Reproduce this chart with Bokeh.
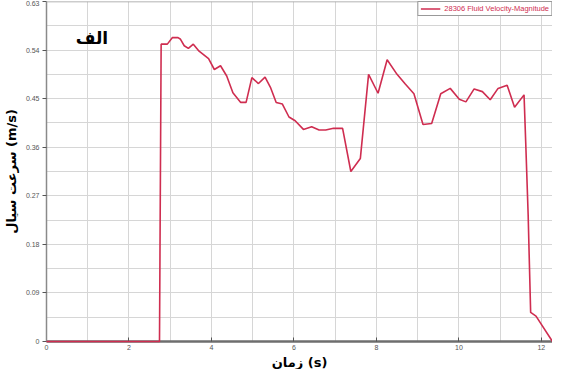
from bokeh.plotting import figure
from bokeh.models import Range1d, FixedTicker, Span, Label, Title
from bokeh.embed import file_html
from bokeh.resources import INLINE

# ---- data ----
series_name = "28306 Fluid Velocity-Magnitude"
time_s = [0, 2.74, 2.78, 2.93, 3.05, 3.19, 3.25, 3.34, 3.44, 3.56, 3.70, 3.93, 4.07, 4.22,
          4.37, 4.52, 4.71, 4.84, 4.98, 5.14, 5.30, 5.43, 5.57, 5.72, 5.88, 6.03, 6.23,
          6.43, 6.61, 6.77, 6.96, 7.18, 7.38, 7.61, 7.81, 8.04, 8.26, 8.50, 8.70, 8.91,
          9.13, 9.34, 9.56, 9.79, 10.01, 10.17, 10.37, 10.57, 10.76, 10.95, 11.17, 11.35,
          11.58, 11.62, 11.68, 11.71, 11.74, 11.87, 12.27]
velocity = [0, 0, 0.551, 0.551, 0.563, 0.563, 0.560, 0.548, 0.543, 0.551, 0.538, 0.524,
            0.504, 0.511, 0.492, 0.461, 0.443, 0.443, 0.489, 0.478, 0.490, 0.471, 0.443,
            0.440, 0.416, 0.409, 0.393, 0.398, 0.392, 0.392, 0.395, 0.395, 0.315, 0.339,
            0.495, 0.460, 0.522, 0.495, 0.477, 0.459, 0.402, 0.404, 0.459, 0.469, 0.449,
            0.444, 0.468, 0.463, 0.448, 0.469, 0.475, 0.434, 0.457, 0.370, 0.234, 0.143,
            0.054, 0.047, 0.0]

x_ticks = [0, 2, 4, 6, 8, 10, 12]
x_tick_labels = ["0", "2", "4", "6", "8", "10", "12"]
y_ticks = [0, 0.09, 0.18, 0.27, 0.36, 0.45, 0.54, 0.63]
y_tick_labels = ["0", "0.09", "0.18", "0.27", "0.36", "0.45", "0.54", "0.63"]
x_grid = list(range(0, 13))
y_grid = [0, 0.045, 0.09, 0.135, 0.18, 0.225, 0.27, 0.315, 0.36, 0.405, 0.45, 0.495,
          0.54, 0.585, 0.63]

x_label = "زمان (s)"
y_label = "سرعت سیال (m/s)"
panel_title = "الف"

LINE = "#cf2d50"
FONT = "DejaVu Sans"
TICKFONT = "Liberation Sans"
X_MAX = 12.27

p = figure(width=552, height=369, output_backend="svg", toolbar_location=None,
           x_range=Range1d(0, X_MAX), y_range=Range1d(0, 0.63),
           min_border_left=40, min_border_right=0, min_border_top=1, min_border_bottom=0)
p.background_fill_color = "white"
p.border_fill_color = "white"
p.outline_line_color = None

r = p.line(time_s, velocity, line_color=LINE, line_width=1.6, legend_label=series_name)
r.level = "overlay"

# axes
p.xaxis.ticker = FixedTicker(ticks=x_ticks)
p.yaxis.ticker = FixedTicker(ticks=y_ticks)
p.xaxis.major_label_overrides = {t: l for t, l in zip(x_ticks, x_tick_labels)}
p.yaxis.major_label_overrides = {t: l for t, l in zip(y_ticks, y_tick_labels)}
for ax in (p.xaxis, p.yaxis):
    ax.major_label_text_font = TICKFONT
    ax.major_label_text_font_size = "7px"
    ax.major_label_text_color = "#555555"
    ax.minor_tick_line_color = None
    ax.major_tick_line_color = "#555555"
    ax.axis_label_text_font = FONT
    ax.axis_label_text_font_style = "bold"
    ax.axis_label_text_font_size = "13px"
    ax.axis_label_text_color = "black"
    ax.major_label_standoff = 3
p.xaxis.axis_line_color = "#6e6e6e"
p.xaxis.axis_line_width = 2.5
p.xaxis.major_tick_in = 4
p.xaxis.major_tick_out = 0
p.xaxis.major_label_standoff = 3
p.yaxis.axis_line_color = "#8a8a8a"
p.yaxis.axis_line_width = 1.5
p.yaxis.major_tick_in = 0
p.yaxis.major_tick_out = 4
p.yaxis.axis_label_standoff = 4
p.yaxis.axis_label = y_label

# x axis title as a panel below the axis
p.add_layout(Title(text=x_label, align="center", text_font=FONT, text_font_size="13px",
                   text_font_style="bold", text_color="black", standoff=0,
                   text_line_height=1.0), "below")

# grid
p.xgrid.ticker = FixedTicker(ticks=x_grid)
p.ygrid.ticker = FixedTicker(ticks=y_grid)
p.xgrid.grid_line_color = "#d6d6d6"
p.ygrid.grid_line_color = "#d6d6d6"
p.xgrid.grid_line_width = 1
p.ygrid.grid_line_width = 1

# top border
p.add_layout(Span(location=0.63, dimension="width", line_color="#9a9a9a", line_width=1.5))

# panel label
p.add_layout(Label(x=1.1, y=0.562, text=panel_title, text_font=FONT, text_font_size="17px",
                   text_font_style="bold", text_align="center", text_baseline="middle",
                   text_color="black"))

# legend
lg = p.legend[0]
lg.location = "top_right"
lg.margin = 0
lg.padding = 2
lg.spacing = 0
lg.glyph_width = 20
lg.glyph_height = 9
lg.label_height = 9
lg.label_standoff = 4
lg.label_text_font = TICKFONT
lg.label_text_font_size = "7.5px"
lg.label_text_color = LINE
lg.border_line_color = "#333333"
lg.border_line_width = 1
lg.background_fill_alpha = 1

open("out.html", "w").write(file_html(p, INLINE))
